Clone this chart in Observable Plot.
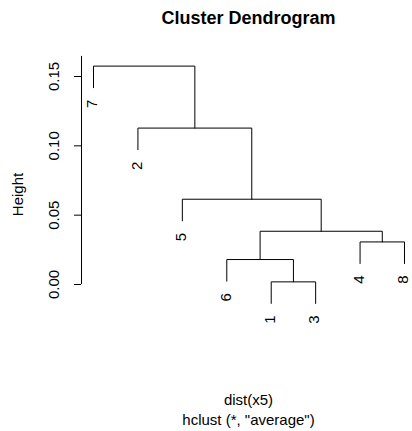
<!DOCTYPE html>
<html>
<head>
<meta charset="utf-8">
<script src="https://cdn.jsdelivr.net/npm/d3@7"></script>
<script src="https://cdn.jsdelivr.net/npm/@observablehq/plot@0.6"></script>
<style>
  html, body { margin: 0; padding: 0; background: white; }
</style>
</head>
<body>
<div id="chart"></div>
<script>
// Observation labels and the leaf order along the x axis
const leafOrder = ["7", "2", "5", "6", "1", "3", "4", "8"];
// R-style merge matrix: negative = observation, positive = earlier merge (1-based)
const mergeLeft  = [-1, -4, -6, 3, -5, -2, -7];
const mergeRight = [-3, -8,  1, 2,  4,  5,  6];
const mergeHeight = [0.0019, 0.0307, 0.0180, 0.0384, 0.0615, 0.1128, 0.1575];
// Y axis ticks
const yTicks = [0, 0.05, 0.10, 0.15];
const yAxisTop = 0.1645;
const titleText = "Cluster Dendrogram";
const xLabelText = "dist(x5)";
const subText = 'hclust (*, "average")';
const yLabelText = "Height";

const hang = 0.1 * (d3.max(mergeHeight) - d3.min(mergeHeight));

// build positions
const leafX = new Map(leafOrder.map((l, i) => [l, i + 1]));
const nodeX = [];
const lines = [];
const leaves = [];
function childInfo(c, parentH) {
  if (c < 0) {
    const lab = String(-c);
    const x = leafX.get(lab);
    const y = parentH - hang;
    leaves.push({label: lab, x, y});
    return {x, y};
  }
  return {x: nodeX[c - 1], y: mergeHeight[c - 1]};
}
mergeHeight.forEach((h, i) => {
  const a = childInfo(mergeLeft[i], h);
  const b = childInfo(mergeRight[i], h);
  const [l, r] = a.x <= b.x ? [a, b] : [b, a];
  nodeX[i] = (a.x + b.x) / 2;
  lines.push({id: i, x: l.x, y: l.y}, {id: i, x: l.x, y: h}, {id: i, x: r.x, y: h}, {id: i, x: r.x, y: r.y});
});

const font = "'Liberation Sans', Arial, Helvetica, sans-serif";

const chart = Plot.plot({
  width: 412,
  height: 431,
  marginLeft: 81,
  marginRight: 0,
  marginTop: 76,
  marginBottom: 147,
  x: {domain: [0.7299, 8.1801], axis: null},
  y: {domain: [0, 0.15], axis: null},
  style: {fontFamily: font, fontSize: "15px", background: "white", color: "black"},
  marks: [
    Plot.line(lines, {x: "x", y: "y", z: "id", stroke: "black", strokeWidth: 1, curve: "linear"}),
    Plot.text(leaves, {x: "x", y: "y", text: "label", rotate: -90, textAnchor: "end", lineAnchor: "middle", dy: 12, dx: -1, fontSize: 15, fill: "black"}),
    Plot.ruleX([0.7299], {y1: 0, y2: yAxisTop, stroke: "black", strokeWidth: 1}),
    Plot.axisY({ticks: yTicks, tickSize: 7, tickFormat: () => "", label: null, stroke: "black", strokeOpacity: 1}),
    Plot.text(yTicks, {y: d => d, frameAnchor: "left", dx: -27.5, rotate: -90, text: d => d3.format(".2f")(d), textAnchor: "middle", lineAnchor: "middle", fontSize: 15, fill: "black"}),
    Plot.text([yLabelText], {frameAnchor: "top-left", dx: -63.5, dy: 118, rotate: -90, textAnchor: "middle", lineAnchor: "middle", fontSize: 15, fill: "black"}),
    Plot.text([titleText], {frameAnchor: "top", dx: 1.5, dy: -58, textAnchor: "middle", lineAnchor: "middle", fontSize: 18, fontWeight: "bold", fill: "black", letterSpacing: "0.3px"}),
    Plot.text([xLabelText], {frameAnchor: "bottom", dx: 1.5, dy: 116, textAnchor: "middle", lineAnchor: "middle", fontSize: 15, fill: "black"}),
    Plot.text([subText], {frameAnchor: "bottom", dx: 1.5, dy: 136, textAnchor: "middle", lineAnchor: "middle", fontSize: 15, fill: "black"})
  ]
});
document.getElementById("chart").appendChild(chart);
</script>
</body>
</html>
